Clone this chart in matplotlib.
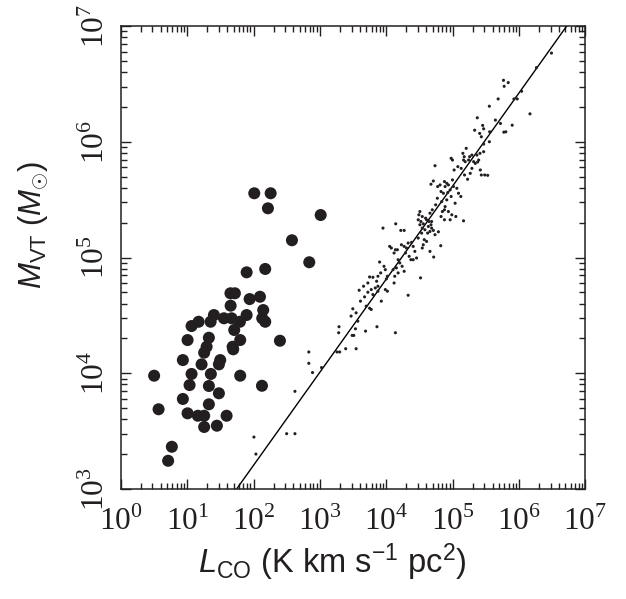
import matplotlib
matplotlib.use('Agg')
import matplotlib.pyplot as plt
import numpy as np
from matplotlib.ticker import LogLocator, FuncFormatter, NullFormatter

plt.rcParams['mathtext.fontset'] = 'custom'
plt.rcParams['mathtext.rm'] = 'Liberation Serif'
plt.rcParams['mathtext.it'] = 'Liberation Sans:italic'
plt.rcParams['mathtext.sf'] = 'Liberation Sans'

# extragalactic / small clouds (big dots), log10 values
log_L_big = [2.011, 2.258, 2.217, 3.012, 2.579, 2.840, 1.896, 2.176, 1.652, 1.719,
             1.941, 2.097, 1.655, 2.146, 1.403, 1.896, 1.554, 1.670, 2.131, 1.172,
             1.066, 1.353, 1.795, 2.176, 1.709, 1.327, 1.006, 1.799, 2.398, 1.293,
             1.685, 1.694, 1.256, 0.935, 1.498, 1.478, 1.217, 0.502, 1.066, 1.357,
             1.799, 1.036, 1.327, 2.127, 1.478, 0.935, 1.327, 0.569, 1.006, 1.161,
             1.256, 1.594, 1.256, 1.448, 0.769, 0.713]
log_M_big = [5.555, 5.555, 5.425, 5.367, 5.149, 4.959, 4.872, 4.901, 4.691, 4.691,
             4.641, 4.661, 4.584, 4.546, 4.503, 4.503, 4.475, 4.475, 4.475, 4.445,
             4.408, 4.445, 4.445, 4.445, 4.374, 4.307, 4.287, 4.287, 4.281, 4.229,
             4.229, 4.207, 4.178, 4.114, 4.114, 4.077, 4.077, 3.979, 3.994, 3.994,
             3.979, 3.898, 3.890, 3.892, 3.827, 3.778, 3.732, 3.689, 3.654, 3.633,
             3.633, 3.633, 3.536, 3.547, 3.365, 3.244]

# galactic GMCs (small dots), log10 values
log_L_gmc = [6.490, 6.263, 6.040, 5.924, 5.974, 5.767, 5.838, 5.777, 6.166, 5.686,
             5.554, 5.645, 5.721, 5.898, 5.772, 5.802, 5.372, 5.453, 5.468, 5.332,
             5.408, 5.433, 5.559, 5.468, 5.554, 5.205, 5.155, 5.175, 5.256, 5.291,
             5.241, 5.317, 5.367, 5.393, 5.165, 5.190, 4.978, 4.998, 5.023, 5.079,
             5.130, 5.180, 5.226, 5.266, 5.291, 5.342, 5.418, 5.433, 5.484, 5.529,
             5.377, 5.413, 5.468, 4.735, 4.674, 4.710, 4.775, 4.811, 4.877, 4.912,
             4.887, 4.937, 4.998, 4.963, 5.013, 4.826, 4.861, 4.927, 5.064, 5.124,
             4.770, 4.836, 4.912, 4.978, 5.038, 5.089, 4.745, 4.887, 4.877, 4.846,
             4.937, 4.988, 5.049, 4.826, 4.877, 4.963, 5.165, 4.694, 4.659, 4.593,
             4.507, 4.492, 4.543, 4.608, 4.644, 4.684, 4.674, 4.634, 4.558, 4.522,
             4.482, 4.507, 4.543, 4.583, 4.624, 4.659, 4.684, 4.710, 4.786, 4.735,
             4.533, 4.482, 4.573, 4.608, 4.558, 4.543, 4.659, 4.715, 4.821, 4.143,
             3.951, 4.219, 4.270, 4.052, 4.077, 4.138, 4.168, 4.118, 4.229, 4.270,
             4.305, 4.330, 4.381, 4.406, 4.290, 4.345, 4.431, 4.457, 4.371, 4.406,
             4.179, 4.204, 4.153, 4.103, 4.239, 4.270, 4.179, 4.128, 4.017, 4.002,
             3.986, 3.900, 3.966, 3.916, 3.875, 3.855, 3.875, 3.835, 3.749, 3.799,
             3.723, 3.723, 3.774, 3.799, 3.875, 3.926, 3.986, 4.017, 4.118, 4.330,
             4.517, 3.658, 3.592, 3.673, 3.612, 3.698, 3.749, 3.774, 3.496, 3.470,
             3.546, 3.572, 3.688, 3.860, 4.138, 3.536, 3.511, 3.486, 3.288, 3.283,
             3.389, 3.258, 3.298, 3.546, 2.833, 2.833, 2.889, 3.025, 2.006, 2.036,
             2.499, 2.624, 2.624]
log_M_gmc = [6.766, 6.640, 6.436, 6.370, 6.370, 6.531, 6.511, 6.479, 6.241, 6.370,
             6.307, 6.187, 6.158, 6.143, 6.083, 6.086, 6.207, 6.141, 6.112, 6.100,
             6.072, 6.043, 6.086, 5.980, 6.000, 5.943, 5.900, 5.871, 5.871, 5.885,
             5.842, 5.828, 5.885, 5.842, 5.842, 5.828, 5.857, 5.842, 5.756, 5.785,
             5.770, 5.713, 5.676, 5.727, 5.770, 5.813, 5.756, 5.713, 5.713, 5.710,
             5.825, 5.900, 5.914, 5.793, 5.633, 5.661, 5.613, 5.627, 5.656, 5.641,
             5.613, 5.627, 5.670, 5.584, 5.613, 5.570, 5.555, 5.561, 5.598, 5.527,
             5.512, 5.483, 5.498, 5.527, 5.469, 5.555, 5.455, 5.440, 5.412, 5.397,
             5.397, 5.369, 5.354, 5.354, 5.326, 5.326, 5.317, 5.412, 5.383, 5.340,
             5.397, 5.369, 5.354, 5.326, 5.311, 5.311, 5.283, 5.268, 5.291, 5.311,
             5.326, 5.283, 5.254, 5.240, 5.211, 5.225, 5.254, 5.234, 5.222, 5.197,
             5.211, 5.168, 5.154, 5.139, 5.110, 5.082, 5.053, 5.004, 5.102, 5.291,
             5.254, 5.234, 5.234, 5.096, 5.082, 5.067, 5.067, 5.039, 5.110, 5.096,
             5.082, 5.125, 5.131, 5.096, 5.039, 5.010, 5.053, 4.996, 4.981, 4.981,
             4.981, 4.953, 4.910, 4.895, 4.924, 4.881, 4.867, 4.838, 4.838, 4.815,
             4.895, 4.961, 4.924, 4.867, 4.838, 4.795, 4.752, 4.737, 4.832, 4.829,
             4.780, 4.700, 4.723, 4.680, 4.709, 4.623, 4.723, 4.709, 4.780, 4.674,
             4.824, 4.752, 4.717, 4.660, 4.623, 4.580, 4.562, 4.551, 4.557, 4.494,
             4.522, 4.450, 4.364, 4.402, 4.350, 4.384, 4.327, 4.327, 4.402, 4.350,
             4.212, 4.184, 4.184, 4.212, 4.184, 4.086, 4.006, 4.049, 3.449, 3.302,
             3.478, 3.478, 3.844]

# fit: M_VT = 39 L_CO^0.81
fit_slope = 0.804
fit_logA = 1.597

fig = plt.figure(figsize=(6.26, 5.99), dpi=100)
ax = fig.add_axes([0.193, 0.1836, 0.742, 0.773])

ax.scatter(10**np.array(log_L_big), 10**np.array(log_M_big), s=75, c='#231f20',
           edgecolors='none', zorder=3)
ax.scatter(10**np.array(log_L_gmc), 10**np.array(log_M_gmc), s=5, c='#231f20',
           edgecolors='none', zorder=3)

xl = np.array([1.0, 1e7])
ax.plot(xl, 10**fit_logA * xl**fit_slope, color='black', lw=1.0, zorder=2)

ax.set_xscale('log')
ax.set_yscale('log')
ax.set_xlim(1, 1e7)
ax.set_ylim(1e3, 1e7)

ax.xaxis.set_major_locator(LogLocator(base=10, numticks=20))
ax.yaxis.set_major_locator(LogLocator(base=10, numticks=20))
ax.xaxis.set_minor_locator(LogLocator(base=10, subs=np.arange(2, 10), numticks=20))
ax.yaxis.set_minor_locator(LogLocator(base=10, subs=np.arange(2, 10), numticks=20))
fmt = FuncFormatter(lambda v, p: r'$\mathrm{10}^{\mathrm{%d}}$' % round(np.log10(v)))
ax.xaxis.set_major_formatter(fmt)
ax.yaxis.set_major_formatter(fmt)
ax.xaxis.set_minor_formatter(NullFormatter())
ax.yaxis.set_minor_formatter(NullFormatter())

ax.tick_params(which='both', direction='in', top=True, right=True, width=1.0,
               colors='#231f20', labelsize=22.5)
ax.tick_params(which='major', length=7)
ax.tick_params(which='minor', length=4)
ax.tick_params(axis='x', pad=12)
ax.tick_params(axis='y', pad=8)
for lab in ax.get_yticklabels():
    lab.set_rotation(90)
    lab.set_va('center')
for sp in ax.spines.values():
    sp.set_linewidth(1.1)
    sp.set_color('#231f20')

ax.set_xlabel(r'$L_{\mathsf{CO}}$ (K km s$^{\mathsf{-1}}$ pc$^{\mathsf{2}}$)',
              fontsize=23.5, family='Liberation Sans', color='#231f20')
ax.set_ylabel(r'$M_{\mathsf{VT}}$ ($M_{\odot}$)', fontsize=22.5,
              family='Liberation Sans', color='#231f20')
ax.xaxis.set_label_coords(0.455, -0.113)
ax.yaxis.set_label_coords(-0.153, 0.57)

fig.savefig('out.png', dpi=100)
